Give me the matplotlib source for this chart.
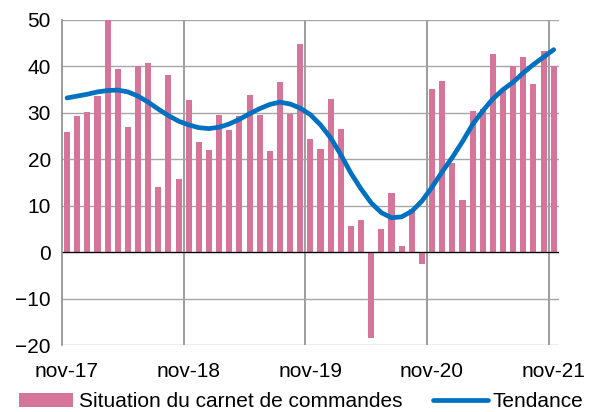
import matplotlib.pyplot as plt
import numpy as np

plt.rcParams['font.family'] = ['Liberation Sans', 'DejaVu Sans']

# monthly data, nov-17 .. nov-21
carnet = [25.8, 29.3, 30.1, 33.7, 50.0, 39.5, 27.0, 40.0, 40.7, 14.1, 38.2, 15.7,
          32.8, 23.7, 22.0, 29.6, 26.2, 29.3, 33.9, 29.6, 21.7, 36.7, 29.7, 44.8,
          24.3, 22.2, 32.9, 26.5, 5.6, 7.0, -18.5, 5.0, 12.7, 1.4, 9.3, -2.5,
          35.2, 36.9, 19.2, 11.3, 30.3, 30.8, 42.6, 35.2, 40.0, 42.0, 36.2, 43.3, 40.0]
tendance = [33.2, 33.6, 34.0, 34.5, 34.8, 34.9, 34.5, 33.6, 32.3, 30.8, 29.4, 28.2,
            27.4, 26.8, 26.6, 26.9, 27.6, 28.6, 29.8, 30.9, 31.8, 32.3, 31.9, 31.0,
            29.6, 27.4, 24.6, 21.0, 17.0, 13.6, 10.6, 8.5, 7.4, 7.6, 8.8, 11.0,
            14.0, 17.3, 20.4, 23.8, 27.5, 30.4, 33.0, 35.0, 36.6, 38.6, 40.4, 42.0, 43.6]
xlabels = ['nov-17', 'nov-18', 'nov-19', 'nov-20', 'nov-21']

x = np.arange(len(carnet))

fig = plt.figure(figsize=(6, 4.12), dpi=100)
ax = fig.add_axes([0.1033, 0.1626, 0.828, 0.789])

bars = ax.bar(x, carnet, width=0.6, color='#D47599', label='Situation du carnet de commandes', zorder=2)
line, = ax.plot(x, tendance, color='#0070C0', lw=3.4, label='Tendance', zorder=3,
                solid_capstyle='round')
ax.axhline(0, color='black', lw=0.9, zorder=2.5)

ax.set_xlim(-0.5, len(carnet) - 0.5)
ax.set_ylim(-20, 50)
ax.set_yticks(range(-20, 51, 10))
ax.set_xticks(x[::12])
ax.set_xticklabels(xlabels)
ax.set_xticks([11.5, 23.5, 35.5, 47.5], minor=True)
ax.tick_params(axis='x', which='both', length=0, pad=12, labelsize=15)
ax.tick_params(axis='y', length=0, pad=8, labelsize=15)

ax.grid(axis='y', color='#A6A6A6', lw=1, zorder=0)
ax.grid(axis='x', which='minor', color='#8C8C8C', lw=1.2, zorder=0)
for s in ['top', 'right', 'bottom']:
    ax.spines[s].set_visible(False)
ax.spines['left'].set_color('#8C8C8C')
ax.spines['left'].set_linewidth(1.2)

ax.legend([bars, line], ['Situation du carnet de commandes', 'Tendance'],
          loc='upper center', bbox_to_anchor=(0.482, -0.12), ncol=2, frameon=False,
          fontsize=15, handlelength=2.6, handletextpad=0.25, columnspacing=1.5,
          borderaxespad=0)

fig.savefig('out.png', dpi=100)
